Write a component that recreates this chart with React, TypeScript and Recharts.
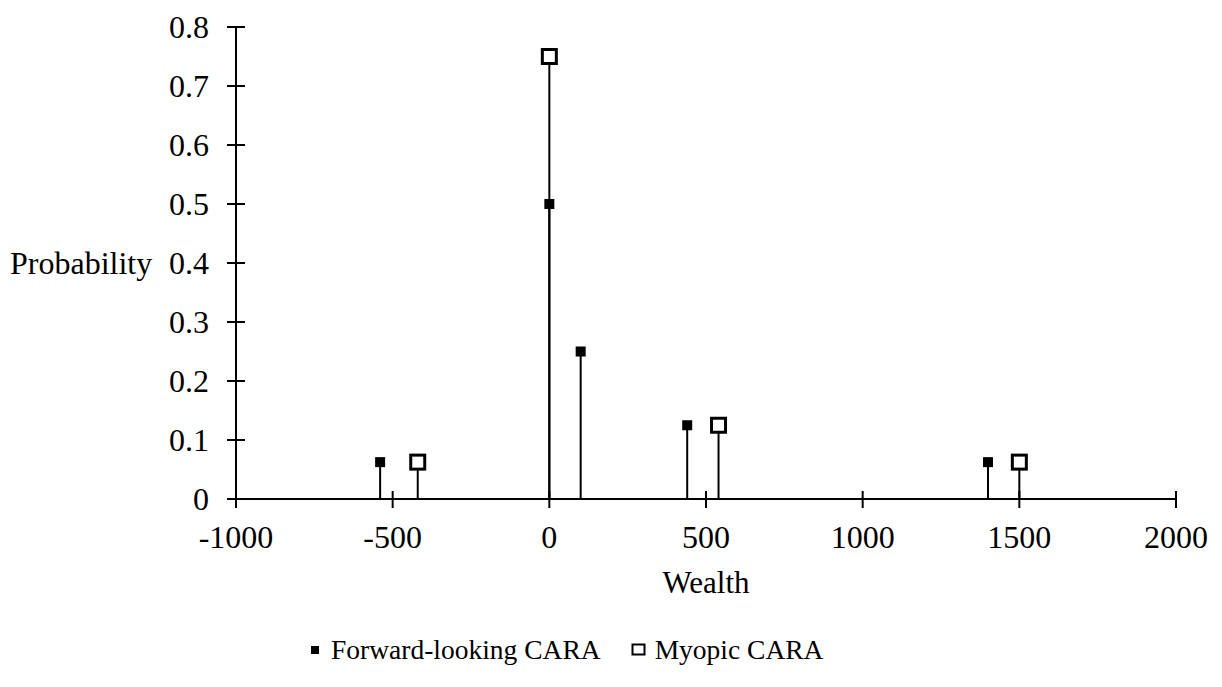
import { ScatterChart, Scatter, XAxis, YAxis, ErrorBar, Legend, Label } from "recharts";

const wealthTicks = [-1000, -500, 0, 500, 1000, 1500, 2000];
const probabilityTicks = [0, 0.1, 0.2, 0.3, 0.4, 0.5, 0.6, 0.7, 0.8];

// Forward-looking CARA
const forwardWealth = [-540, 0, 100, 440, 1400];
const forwardProb = [0.0625, 0.5, 0.25, 0.125, 0.0625];

// Myopic CARA
const myopicWealth = [-420, 0, 540, 1500];
const myopicProb = [0.0625, 0.75, 0.125, 0.0625];

const toStems = (xs: number[], ys: number[]) =>
  xs.map((x, i) => ({ wealth: x, prob: ys[i], stem: [ys[i], 0] }));

const forwardData = toStems(forwardWealth, forwardProb);
const myopicData = toStems(myopicWealth, myopicProb);

const FONT = '"Liberation Serif", "Times New Roman", serif';

const XTick = ({ x, y, payload }: any) => (
  <g>
    <line x1={x} x2={x} y1={y - 8} y2={y + 9} stroke="#000" strokeWidth={2} />
    <text x={x} y={y + 49} textAnchor="middle" fontSize={32} fill="#000" fontFamily={FONT}>
      {payload.value}
    </text>
  </g>
);

const YTick = ({ x, y, payload }: any) => (
  <g>
    <line x1={x - 9} x2={x + 9} y1={y} y2={y} stroke="#000" strokeWidth={2} />
    <text x={x - 27} y={y + 11} textAnchor="end" fontSize={32} fill="#000" fontFamily={FONT}>
      {payload.value}
    </text>
  </g>
);

const FilledSquare = ({ cx, cy }: any) => (
  <rect x={cx - 5} y={cy - 5} width={10} height={10} fill="#000" />
);

const OpenSquare = ({ cx, cy }: any) => (
  <rect x={cx - 7} y={cy - 7} width={14} height={14} fill="#fff" stroke="#000" strokeWidth={3} />
);

const LegendContent = () => (
  <div
    style={{
      display: "flex",
      justifyContent: "flex-start",
      alignItems: "center",
      paddingLeft: 311,
      fontFamily: FONT,
      fontSize: 27.5,
      color: "#000",
    }}
  >
    <svg width={9} height={9} style={{ marginRight: 11 }}>
      <rect x={0} y={0} width={8} height={8} fill="#000" />
    </svg>
    <span style={{ marginRight: 30 }}>Forward-looking CARA</span>
    <svg width={16} height={14} style={{ marginRight: 8 }}>
      <rect x={1.5} y={1.5} width={12} height={10} fill="#fff" stroke="#000" strokeWidth={2} />
    </svg>
    <span>Myopic CARA</span>
  </div>
);

export default function App() {
  return (
    <div style={{ position: "absolute", left: 0, top: 0, fontFamily: FONT }}>
      <ScatterChart width={1222} height={687} margin={{ top: 27, right: 46, left: 0, bottom: 0 }}>
        <XAxis
          type="number"
          dataKey="wealth"
          domain={[-1000, 2000]}
          ticks={wealthTicks}
          allowDataOverflow
          height={188}
          tickSize={0}
          tickMargin={0}
          tickLine={false}
          axisLine={{ stroke: "#000", strokeWidth: 2 }}
          tick={<XTick />}
        >
          <Label value="Wealth" position="insideTop" offset={72} fontSize={31} fill="#000" fontFamily={FONT} />
        </XAxis>
        <YAxis
          type="number"
          dataKey="prob"
          domain={[0, 0.8]}
          ticks={probabilityTicks}
          allowDataOverflow
          width={236}
          tickSize={0}
          tickMargin={0}
          tickLine={false}
          axisLine={{ stroke: "#000", strokeWidth: 2 }}
          tick={<YTick />}
        >
          <Label value="Probability" position="insideLeft" offset={10} fontSize={32} fill="#000" fontFamily={FONT} />
        </YAxis>
        <Legend
          layout="horizontal"
          verticalAlign="middle"
          align="center"
          wrapperStyle={{ top: 634, left: 0, width: 1222 }}
          content={<LegendContent />}
        />
        <Scatter name="Myopic CARA" data={myopicData} shape={<OpenSquare />} isAnimationActive={false}>
          <ErrorBar dataKey="stem" direction="y" width={0} stroke="#000" strokeWidth={2} isAnimationActive={false} />
        </Scatter>
        <Scatter name="Forward-looking CARA" data={forwardData} shape={<FilledSquare />} isAnimationActive={false}>
          <ErrorBar dataKey="stem" direction="y" width={0} stroke="#000" strokeWidth={2} isAnimationActive={false} />
        </Scatter>
      </ScatterChart>
    </div>
  );
}
